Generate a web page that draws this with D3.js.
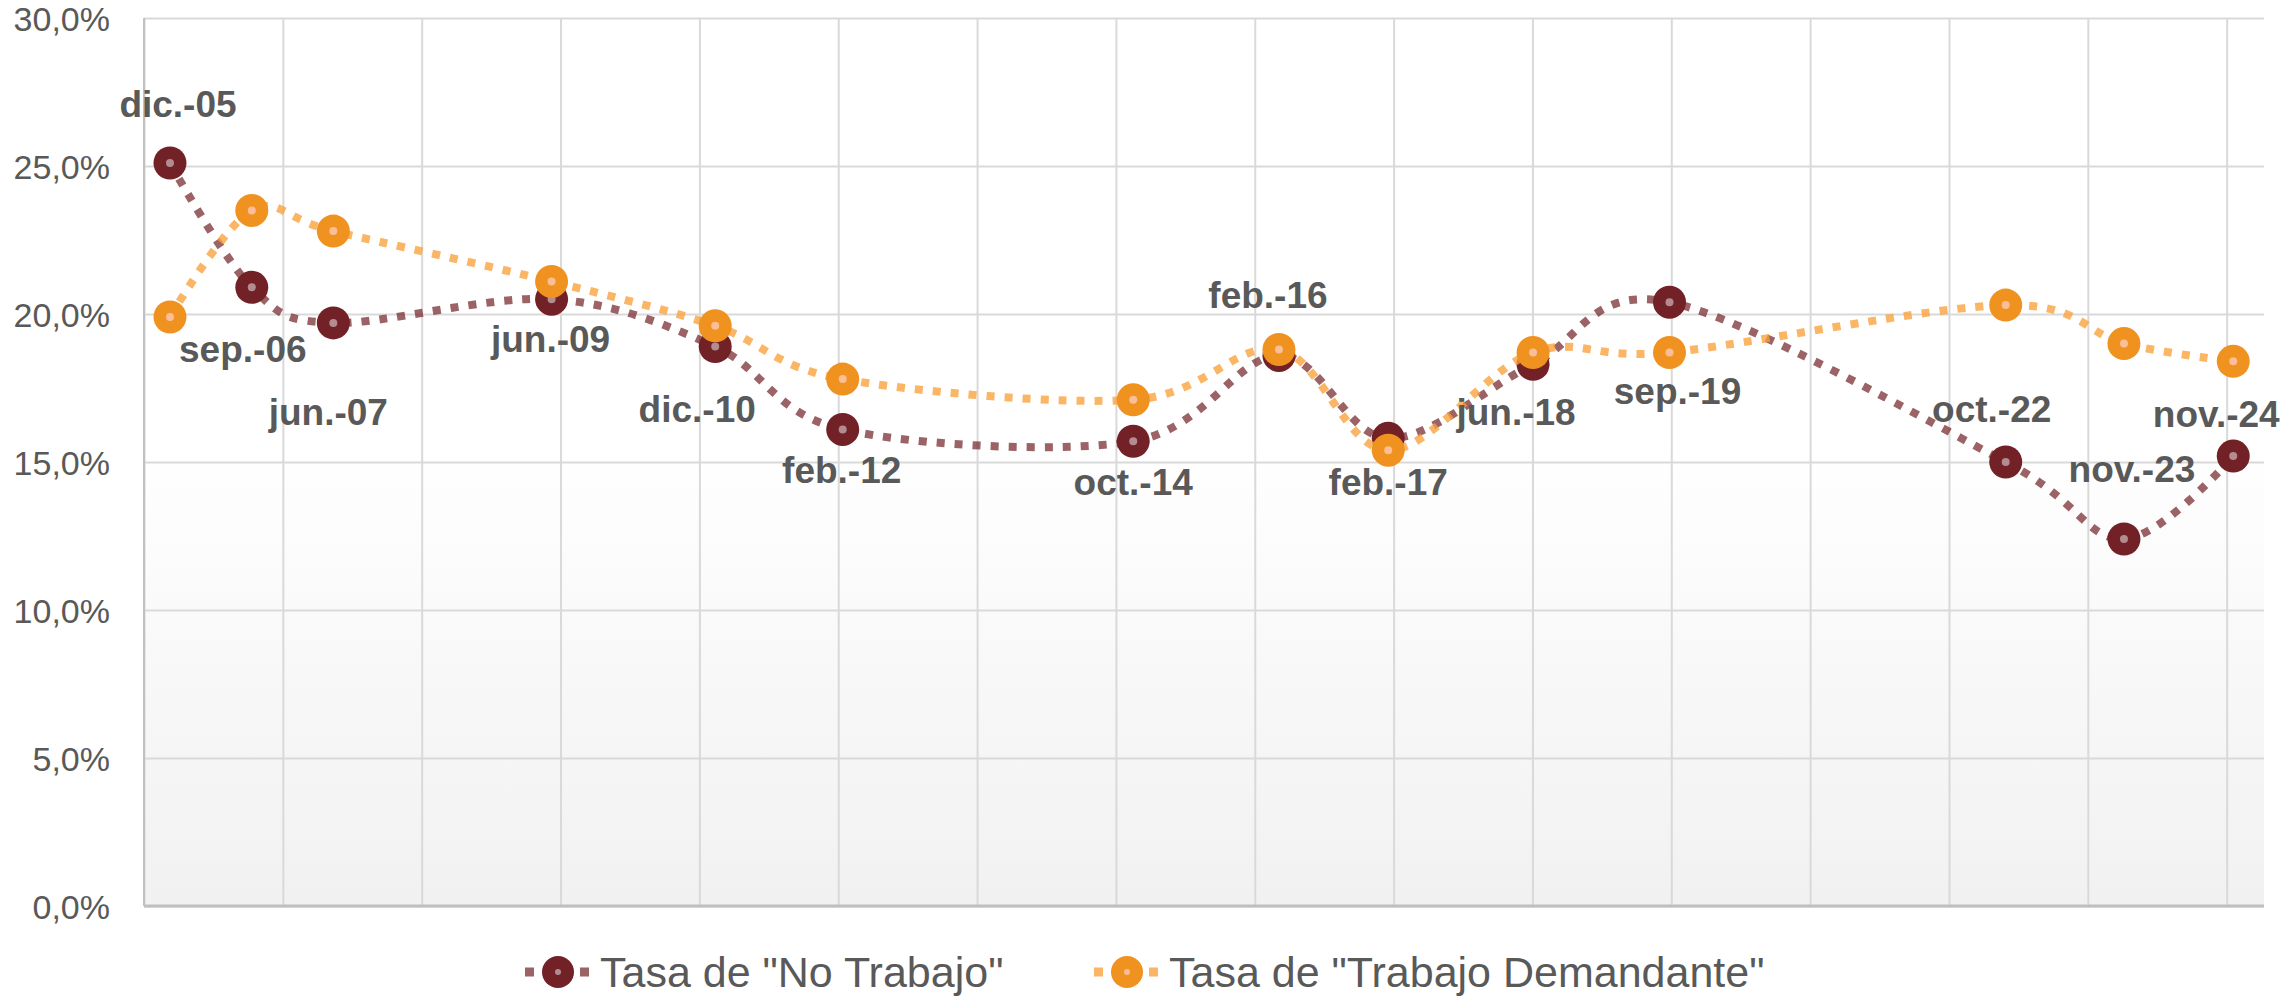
<!DOCTYPE html>
<meta charset="utf-8">
<head>
    <script src="https://d3js.org/d3.v7.min.js"></script>
</head>
<style>
    body { margin: 0; background: #fff; }
    text { font-family: 'Liberation Sans', Arial, sans-serif; fill: #595959; }
    .tick-label { font-size: 34px; }
    .data-label { font-size: 37px; font-weight: bold; }
    .legend-label { font-size: 43px; }
</style>

<div id="my_dataviz"></div>

<script>
    // data
    var fechas = ["2005-12", "2006-09", "2007-06", "2009-06", "2010-12", "2012-02", "2014-10",
                  "2016-02", "2017-02", "2018-06", "2019-09", "2022-10", "2023-11", "2024-11"];
    var etiquetas = ["dic.-05", "sep.-06", "jun.-07", "jun.-09", "dic.-10", "feb.-12", "oct.-14",
                     "feb.-16", "feb.-17", "jun.-18", "sep.-19", "oct.-22", "nov.-23", "nov.-24"];
    var noTrabajo = [25.1, 20.9, 19.7, 20.5, 18.9, 16.1, 15.7, 18.6, 15.8, 18.3, 20.4, 15.0, 12.4, 15.2];
    var trabajoDemandante = [19.9, 23.5, 22.8, 21.1, 19.6, 17.8, 17.1, 18.8, 15.4, 18.7, 18.7, 20.3, 19.0, 18.4];
    var yTicks = [0, 5, 10, 15, 20, 25, 30];
    var seriesNames = ['Tasa de "No Trabajo"', 'Tasa de "Trabajo Demandante"'];

    // label placement (px offset from the "No Trabajo" marker), set by hand like in the original
    var labelOffsets = [[8, -46], [-9, 75], [-5, 102], [-1, 53], [-18, 75], [-1, 54], [0, 54],
                        [-11, -47], [0, 57], [-17, 61], [8, 102], [-14, -40], [8, -57], [-17, -29]];

    var W = 2287, H = 997;
    var margin = {top: 18, right: 23, bottom: 91, left: 144},
        width = W - margin.left - margin.right,
        height = H - margin.top - margin.bottom;

    var parse = d3.timeParse("%Y-%m");
    var dates = fechas.map(parse);

    var svg = d3.select("#my_dataviz")
        .append("svg")
        .attr("width", W)
        .attr("height", H);

    var defs = svg.append("defs");
    var grad = defs.append("linearGradient")
        .attr("id", "bg").attr("x1", 0).attr("y1", 0).attr("x2", 0).attr("y2", 1);
    grad.append("stop").attr("offset", "0%").attr("stop-color", "#ffffff");
    grad.append("stop").attr("offset", "48%").attr("stop-color", "#ffffff");
    grad.append("stop").attr("offset", "100%").attr("stop-color", "#f1f1f1");

    var g = svg.append("g")
        .attr("transform", "translate(" + margin.left + "," + margin.top + ")");

    var axisStart = new Date(2005, 8, 5),
        axisEnd = new Date(2025, 1, 12);
    var x = d3.scaleTime()
        .domain([axisStart, axisEnd])
        .range([0, width]);

    var y = d3.scaleLinear()
        .domain([0, 30])
        .range([height, 0]);

    // plot background
    g.append("rect")
        .attr("width", width)
        .attr("height", height)
        .attr("fill", "url(#bg)");

    // vertical gridlines (major unit ~465 days)
    var xGrid = d3.range(0, 16).map(function(k) { return d3.timeDay.offset(axisStart, k * 465); });
    g.append("g")
        .call(d3.axisBottom(x).tickValues(xGrid).tickSize(-height).tickFormat(""))
        .attr("transform", "translate(0," + height + ")")
        .call(function(a) {
            a.select(".domain").remove();
            a.selectAll("line").attr("stroke", "#d9d9d9").attr("stroke-width", 2);
        });

    // horizontal gridlines + tick labels
    g.append("g")
        .call(d3.axisLeft(y).tickValues(yTicks).tickSize(-width).tickFormat(""))
        .call(function(a) {
            a.select(".domain").remove();
            a.selectAll("line").attr("stroke", "#d9d9d9").attr("stroke-width", 2);
        });

    g.selectAll(".tick-label")
        .data(yTicks)
        .enter()
        .append("text")
        .attr("class", "tick-label")
        .attr("text-anchor", "end")
        .attr("x", -34)
        .attr("y", function(d) { return y(d) + 13; })
        .text(function(d) { return d3.format(".1f")(d).replace(".", ",") + "%"; });

    // axis lines
    g.append("line")
        .attr("x1", 0).attr("x2", 0).attr("y1", 0).attr("y2", height)
        .attr("stroke", "#c0c0c0").attr("stroke-width", 2);
    g.append("line")
        .attr("x1", 0).attr("x2", width).attr("y1", height).attr("y2", height)
        .attr("stroke", "#bfbfbf").attr("stroke-width", 3);

    var line = d3.line()
        .x(function(d) { return x(d.date); })
        .y(function(d) { return y(d.v); })
        .curve(d3.curveCardinal.tension(0));

    var series = [
        {name: seriesNames[0], values: noTrabajo, marker: "#722126", dot: "#b38c8f", stroke: "#722126", op: 0.7},
        {name: seriesNames[1], values: trabajoDemandante, marker: "#f0921f", dot: "#fbbe96", stroke: "#f9a03a", op: 0.78}
    ];

    series.forEach(function(s) {
        var pts = s.values.map(function(v, i) { return {date: dates[i], v: v}; });

        g.append("path")
            .datum(pts)
            .attr("fill", "none")
            .attr("stroke", s.stroke)
            .attr("stroke-opacity", s.op)
            .attr("stroke-width", 8)
            .attr("stroke-dasharray", "8,10")
            .attr("d", line);

        var m = g.append("g").selectAll("g")
            .data(pts)
            .enter()
            .append("g")
            .attr("transform", function(d) { return "translate(" + x(d.date) + "," + y(d.v) + ")"; });
        m.append("circle").attr("r", 16.5).attr("fill", s.marker);
        m.append("circle").attr("r", 4).attr("fill", s.dot);
    });

    // date labels
    g.selectAll(".data-label")
        .data(etiquetas)
        .enter()
        .append("text")
        .attr("class", "data-label")
        .attr("text-anchor", "middle")
        .attr("x", function(d, i) { return x(dates[i]) + labelOffsets[i][0]; })
        .attr("y", function(d, i) { return y(noTrabajo[i]) + labelOffsets[i][1]; })
        .text(function(d) { return d; });

    // legend
    var legendPos = [525, 1094];
    series.forEach(function(s, i) {
        var lg = svg.append("g").attr("transform", "translate(" + legendPos[i] + ",972)");
        lg.append("line")
            .attr("x1", 0).attr("x2", 65)
            .attr("stroke", s.stroke).attr("stroke-opacity", s.op)
            .attr("stroke-width", 9)
            .attr("stroke-dasharray", "9,46");
        lg.append("circle").attr("cx", 33).attr("r", 16).attr("fill", s.marker);
        lg.append("circle").attr("cx", 33).attr("r", 3).attr("fill", s.dot);
        lg.append("text")
            .attr("class", "legend-label")
            .attr("x", 75)
            .attr("y", 15)
            .text(s.name);
    });
</script>
